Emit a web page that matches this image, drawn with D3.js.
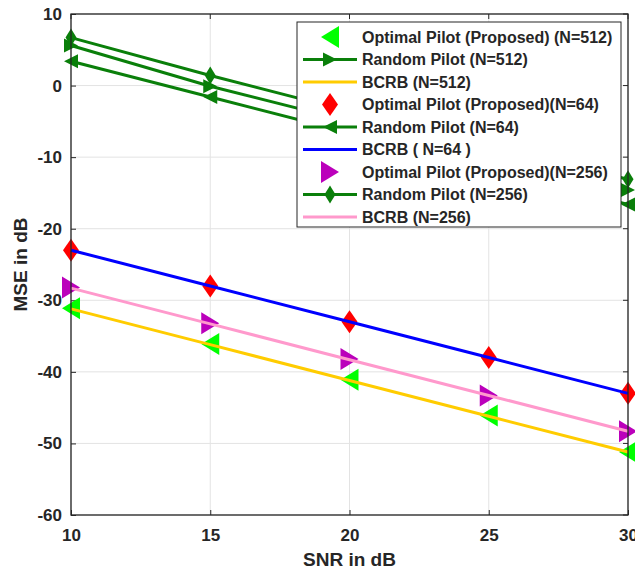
<!DOCTYPE html>
<html>
<head>
<meta charset="utf-8">
<script src="https://cdn.jsdelivr.net/npm/d3@7"></script>
<style>
  body { margin: 0; background: #fff; }
  svg text { font-family: "Liberation Sans", Arial, sans-serif; font-weight: bold; fill: #262626; }
</style>
</head>
<body>
<div id="chart"></div>
<script>
// values
const snr = [10, 15, 20, 25, 30];
const xTicks = [10, 15, 20, 25, 30];
const yTicks = [-60, -50, -40, -30, -20, -10, 0, 10];

const optimal512 = [-31.1, -36.1, -41.1, -46.1, -51.2];
const random512 = [5.6, -0.1, -5.0, -9.9, -14.6];
const bcrb512 = [-31.2, -36.2, -41.2, -46.2, -51.2];
const optimal64 = [-23, -28, -33, -38, -43];
const random64 = [3.4, -1.6, -6.6, -11.6, -16.6];
const bcrb64 = [-23, -28, -33, -38, -43];
const optimal256 = [-28.2, -33.2, -38.2, -43.3, -48.3];
const random256 = [6.7, 1.4, -3.6, -8.5, -13.1];
const bcrb256 = [-28.3, -33.3, -38.3, -43.3, -48.3];

const legendLabels = [
  "Optimal Pilot (Proposed) (N=512)",
  "Random Pilot (N=512)",
  "BCRB (N=512)",
  "Optimal Pilot (Proposed)(N=64)",
  "Random Pilot (N=64)",
  "BCRB ( N=64 )",
  "Optimal Pilot (Proposed)(N=256)",
  "Random Pilot (N=256)",
  "BCRB (N=256)"
];

const W = 635, H = 574;
const margin = {left: 71, right: 7, top: 14, bottom: 59};

const svg = d3.select("#chart").append("svg")
  .attr("width", W).attr("height", H);

const x = d3.scaleLinear().domain([10, 30]).range([margin.left, W - margin.right]);
const y = d3.scaleLinear().domain([-60, 10]).range([H - margin.bottom, margin.top]);

// marker shapes, w x h around the centre
function shape(kind, w, h) {
  const a = w / 2, b = h / 2;
  if (kind === "left") return `M${-a},0L${a},${-b}L${a},${b}Z`;
  if (kind === "right") return `M${a},0L${-a},${-b}L${-a},${b}Z`;
  return `M0,${-b}L${a},0L0,${b}L${-a},0Z`;
}

const series = [
  {vals: optimal512, line: null, mark: "left", mc: "#00ff00", mw: 18, mh: 22},
  {vals: random512, line: "#0a7f0a", mark: "right", mc: "#0a7f0a", mw: 14, mh: 14},
  {vals: bcrb512, line: "#ffcc00", mark: null},
  {vals: optimal64, line: null, mark: "diamond", mc: "#ff0000", mw: 16, mh: 23},
  {vals: random64, line: "#0a7f0a", mark: "left", mc: "#0a7f0a", mw: 14, mh: 14},
  {vals: bcrb64, line: "#0000ff", mark: null},
  {vals: optimal256, line: null, mark: "right", mc: "#bb00bb", mw: 18, mh: 22},
  {vals: random256, line: "#0a7f0a", mark: "diamond", mc: "#0a7f0a", mw: 11, mh: 18},
  {vals: bcrb256, line: "#ff99cc", mark: null}
];

// grid
svg.append("g").selectAll("line.gx").data(xTicks).join("line")
  .attr("x1", d => x(d)).attr("x2", d => x(d))
  .attr("y1", y(-60)).attr("y2", y(10))
  .attr("stroke", "#e3e3e3").attr("stroke-width", 1);
svg.append("g").selectAll("line.gy").data(yTicks).join("line")
  .attr("y1", d => y(d)).attr("y2", d => y(d))
  .attr("x1", x(10)).attr("x2", x(30))
  .attr("stroke", "#e3e3e3").attr("stroke-width", 1);

// axes (ticks inside, like matlab), plain hyphen for minus
const fmt = d => String(d);
const gx = svg.append("g").attr("transform", `translate(0,${y(-60)})`)
  .call(d3.axisBottom(x).tickValues(xTicks).tickFormat(fmt).tickSizeInner(-5).tickSizeOuter(0).tickPadding(14));
const gy = svg.append("g").attr("transform", `translate(${x(10)},0)`)
  .call(d3.axisLeft(y).tickValues(yTicks).tickFormat(fmt).tickSizeInner(-5).tickSizeOuter(0).tickPadding(9));
[gx, gy].forEach(g => {
  g.select(".domain").remove();
  g.selectAll(".tick line").attr("stroke", "#262626");
  g.selectAll(".tick text").style("font-size", "17px").attr("fill", "#262626");
});
// top/right ticks
svg.append("g").selectAll("line").data(xTicks).join("line")
  .attr("x1", d => x(d)).attr("x2", d => x(d))
  .attr("y1", y(10)).attr("y2", y(10) + 5).attr("stroke", "#262626");
svg.append("g").selectAll("line").data(yTicks).join("line")
  .attr("y1", d => y(d)).attr("y2", d => y(d))
  .attr("x1", x(30)).attr("x2", x(30) - 5).attr("stroke", "#262626");

// data
const lineGen = d3.line().x((d, i) => x(snr[i])).y(d => y(d));
series.forEach(s => {
  const g = svg.append("g");
  if (s.mark) {
    g.selectAll("path.m").data(s.vals).join("path")
      .attr("transform", (d, i) => `translate(${x(snr[i])},${y(d)})`)
      .attr("d", shape(s.mark, s.mw, s.mh))
      .attr("fill", s.mc);
  }
  if (s.line) {
    g.append("path").datum(s.vals)
      .attr("d", lineGen)
      .attr("fill", "none")
      .attr("stroke", s.line)
      .attr("stroke-width", 3);
  }
});

// box
svg.append("rect")
  .attr("x", x(10)).attr("y", y(10))
  .attr("width", x(30) - x(10)).attr("height", y(-60) - y(10))
  .attr("fill", "none").attr("stroke", "#262626").attr("stroke-width", 1.3);

// axis labels
svg.append("text")
  .attr("x", (x(10) + x(30)) / 2).attr("y", 566)
  .attr("text-anchor", "middle").style("font-size", "19px")
  .text("SNR in dB");
svg.append("text")
  .attr("transform", `translate(27,${(y(10) + y(-60)) / 2}) rotate(-90)`)
  .attr("text-anchor", "middle").style("font-size", "19px")
  .text("MSE in dB");

// legend
const lg = svg.append("g");
lg.append("rect")
  .attr("x", 297).attr("y", 22).attr("width", 324).attr("height", 205)
  .attr("fill", "#fff").attr("stroke", "#262626").attr("stroke-width", 1);
series.forEach((s, i) => {
  const cy = 37 + i * 22.5;
  if (s.line) {
    lg.append("line")
      .attr("x1", 303).attr("x2", 357).attr("y1", cy).attr("y2", cy)
      .attr("stroke", s.line).attr("stroke-width", 3);
  }
  if (s.mark) {
    lg.append("path")
      .attr("transform", `translate(330,${cy})`)
      .attr("d", shape(s.mark, s.mw, s.mh))
      .attr("fill", s.mc);
  }
  lg.append("text")
    .attr("x", 362).attr("y", cy).attr("dy", "0.35em")
    .style("font-size", "16px")
    .text(legendLabels[i]);
});
</script>
</body>
</html>
